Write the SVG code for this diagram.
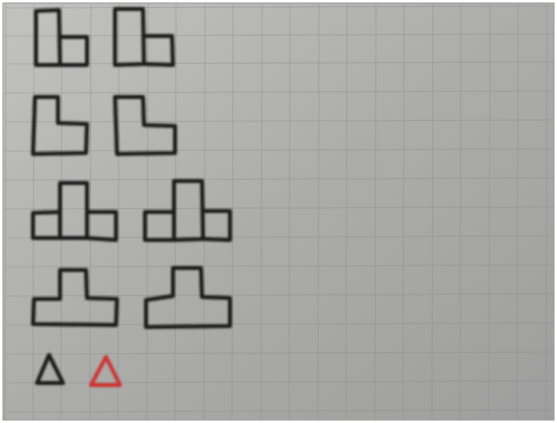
<svg xmlns="http://www.w3.org/2000/svg" width="557" height="423" viewBox="0 0 557 423">
<defs>
<linearGradient id="paper" x1="0" y1="0" x2="1" y2="1">
<stop offset="0" stop-color="#c2c2c0"/>
<stop offset="0.5" stop-color="#acacaa"/>
<stop offset="1" stop-color="#9e9e9e"/>
</linearGradient>
<filter id="soft" x="-10%" y="-10%" width="120%" height="120%">
<feGaussianBlur stdDeviation="0.9"/>
</filter>
<filter id="softer" x="-5%" y="-5%" width="110%" height="110%">
<feGaussianBlur stdDeviation="0.7"/>
</filter>
</defs>
<style>
.ink{fill:none;stroke:#1c1c1c;stroke-width:4;stroke-linejoin:round;stroke-linecap:round}
.red{fill:none;stroke:#cc3530;stroke-width:3.8;stroke-linejoin:round;stroke-linecap:round}
.grid{stroke:#8c8c8c;stroke-width:1.2;opacity:0.35}
</style>
<rect x="0" y="0" width="557" height="423" fill="#ffffff"/>
<rect x="3" y="3" width="551" height="417" fill="url(#paper)" stroke="#9a9a9a" stroke-width="1"/>
<g id="grid" filter="url(#softer)">
<path class="grid" d="M5,8 L554,6 M5,36 L554,34 M5,64 L554,62 M5,93 L554,91 M5,122 L554,120 M5,151 L554,149 M5,180 L554,178 M5,209 L554,207 M5,238 L554,236 M5,267 L554,265 M5,296 L554,294 M5,325 L554,323 M5,354 L554,352 M5,383 L554,381 M5,412 L554,410"/>
<path class="grid" d="M6,4 L5,420 M34,4 L33,420 M62,4 L61,420 M91,4 L90,420 M119,4 L118,420 M148,4 L147,420 M176,4 L175,420 M205,4 L204,420 M233,4 L232,420 M262,4 L261,420 M290,4 L289,420 M319,4 L318,420 M347,4 L346,420 M376,4 L375,420 M404,4 L403,420 M433,4 L432,420 M461,4 L460,420 M490,4 L489,420 M518,4 L517,420 M547,4 L546,420"/>
</g>
<g filter="url(#soft)">
<g id="shape-1a">
<path class="ink" d="M36,11 L59,10 L60,65 L36,65 Z"/>
<path class="ink" d="M60,37 L87,37 L87,65 L60,65"/>
</g>
<g id="shape-1b">
<path class="ink" d="M115,9 L143,9 L144,64 L115,65 Z"/>
<path class="ink" d="M144,36 L172,36 L173,65 L144,64"/>
</g>
<g id="shape-2a">
<path class="ink" d="M35,97 L58,97 L58,123 L87,124 L86,153 L33,154 Z"/>
</g>
<g id="shape-2b">
<path class="ink" d="M115,97 L143,97 L144,125 L175,126 L175,153 L117,154 Z"/>
</g>
<g id="shape-3a">
<path class="ink" d="M33,213 L60,212 L60,238 L33,238 Z"/>
<path class="ink" d="M60,183 L87,183 L87,238 L60,238 Z"/>
<path class="ink" d="M87,212 L116,212 L116,240 L87,238"/>
</g>
<g id="shape-3b">
<path class="ink" d="M145,212 L174,212 L174,240 L145,240 Z"/>
<path class="ink" d="M174,181 L202,181 L203,239 L174,240 Z"/>
<path class="ink" d="M203,211 L230,211 L230,240 L203,239"/>
</g>
<g id="shape-4a">
<path class="ink" d="M34,299 L60,299 L60,270 L86,270 L87,298 L117,299 L116,325 L33,324 Z"/>
</g>
<g id="shape-4b">
<path class="ink" d="M146,300 L173,296 L173,268 L201,268 L202,297 L230,298 L230,326 L146,327 Z"/>
</g>
<g id="triangle-black">
<path class="ink" d="M49,355 L37,383 L63,383 Z"/>
</g>
<g id="triangle-red">
<path class="red" d="M106,357 L91,385 L120,385 Z"/>
</g>
</g>
</svg>
